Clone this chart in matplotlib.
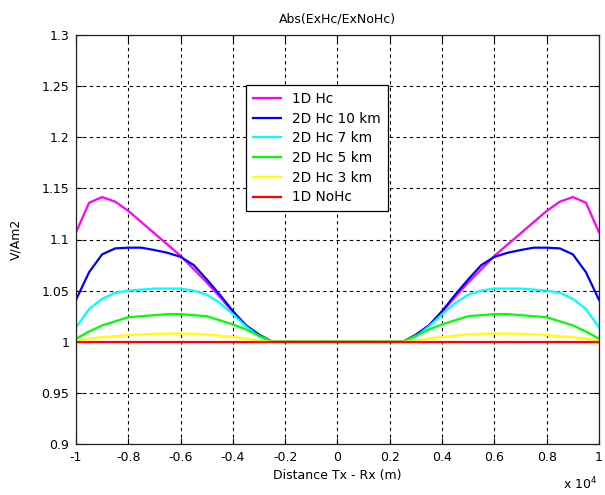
import numpy as np
import matplotlib.pyplot as plt

plt.rcParams['font.family'] = 'DejaVu Sans'
plt.rcParams['font.size'] = 9

# offsets (x 1e4 m), far end first; curves are symmetric about 0
offset = np.array([1.0, 0.95, 0.9, 0.85, 0.8, 0.75, 0.7, 0.65, 0.6, 0.55,
                   0.5, 0.45, 0.4, 0.35, 0.3, 0.25, 0.0])

hc_1d = [1.107, 1.136, 1.1415, 1.137, 1.128, 1.117, 1.106, 1.095, 1.084, 1.071,
         1.058, 1.044, 1.029, 1.016, 1.006, 1.0, 1.0]
hc_10km = [1.041, 1.068, 1.0855, 1.0913, 1.092, 1.092, 1.0897, 1.087, 1.083, 1.075,
           1.061, 1.046, 1.030, 1.016, 1.007, 1.0, 1.0]
hc_7km = [1.014, 1.032, 1.042, 1.048, 1.050, 1.051, 1.052, 1.052, 1.052, 1.050,
          1.046, 1.038, 1.027, 1.015, 1.005, 1.0, 1.0]
hc_5km = [1.003, 1.010, 1.016, 1.020, 1.024, 1.025, 1.026, 1.027, 1.027, 1.026,
          1.025, 1.021, 1.017, 1.012, 1.006, 1.0, 1.0]
hc_3km = [1.001, 1.003, 1.0045, 1.0055, 1.0065, 1.0072, 1.0078, 1.008, 1.008, 1.0078,
          1.0072, 1.006, 1.0048, 1.003, 1.0012, 1.0, 1.0]
nohc_1d = [1.0] * len(offset)

labels = ['1D Hc', '2D Hc 10 km', '2D Hc 7 km', '2D Hc 5 km', '2D Hc 3 km', '1D NoHc']
colors = ['#ff00ff', '#0000ff', '#00ffff', '#00ff00', '#ffff00', '#ff0000']
series = [hc_1d, hc_10km, hc_7km, hc_5km, hc_3km, nohc_1d]

x = np.concatenate([-offset, offset[::-1]])

fig = plt.figure(figsize=(6.05, 4.95), dpi=100)
ax = fig.add_axes([76/605, 51/495, 523/605, 409/495])

for vals, lab, col in zip(series, labels, colors):
    v = np.array(vals)
    y = np.concatenate([v, v[::-1]])
    ax.plot(x, y, color=col, lw=1.6, label=lab)

ax.set_xlim(-1, 1)
ax.set_ylim(0.9, 1.3)
ax.set_xticks(np.arange(-1, 1.01, 0.2))
ax.set_xticklabels(['-1', '-0.8', '-0.6', '-0.4', '-0.2', '0', '0.2', '0.4', '0.6', '0.8', '1'])
ax.set_yticks(np.arange(0.9, 1.301, 0.05))
ax.set_yticklabels(['0.9', '0.95', '1', '1.05', '1.1', '1.15', '1.2', '1.25', '1.3'])
ax.tick_params(direction='in', top=True, right=True, length=4, width=0.8, pad=5)
ax.grid(True, color='black', linestyle=(0, (3, 3)), linewidth=0.8)
for s in ax.spines.values():
    s.set_linewidth(0.9)
    s.set_color('#222222')

ax.set_title('Abs(ExHc/ExNoHc)', pad=9, fontsize=9)
ax.set_xlabel('Distance Tx - Rx (m)', labelpad=4)
ax.set_ylabel('V/Am2')
ax.yaxis.set_label_coords(-0.103, 0.5)

fig.text(597/605, 3/495, 'x 10$^{4}$', ha='right', va='bottom', fontsize=9)

leg = ax.legend(loc='upper left', bbox_to_anchor=(246/605, 410/495),
                bbox_transform=fig.transFigure, borderaxespad=0, fancybox=False,
                edgecolor='black', framealpha=1, handlelength=2.1, fontsize=9.8,
                handletextpad=0.8, labelspacing=0.42, borderpad=0.5)
leg.get_frame().set_linewidth(0.9)

fig.savefig('out.png', dpi=100)
